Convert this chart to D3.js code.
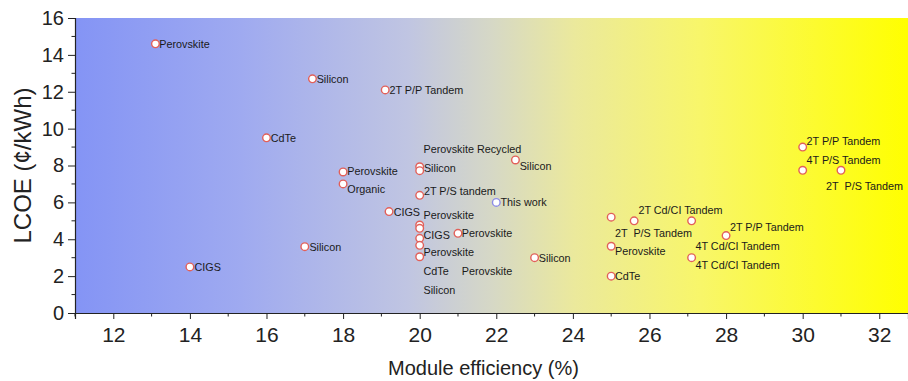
<!DOCTYPE html>
<html>
<head>
<meta charset="utf-8">
<script src="https://cdn.jsdelivr.net/npm/d3@7"></script>
<style>
  body { margin: 0; background: #fff; }
  svg { display: block; font-family: Arial, "Liberation Sans", sans-serif; }
</style>
</head>
<body>
<div id="chart"></div>
<script>
// reported devices: module efficiency (%) vs LCOE (cents/kWh)
const efficiency = [13.1, 17.2, 19.1, 16.0, 18.0, 18.0, 19.2, 17.0, 14.0,
  20, 20, 20, 20, 20, 20, 20, 20,
  21.0, 22.5, 23.0,
  30, 30, 31, 25, 25.6, 27.1, 28, 27.1, 25, 25];
const lcoe = [14.6, 12.7, 12.1, 9.5, 7.65, 7.0, 5.5, 3.6, 2.5,
  7.93, 7.72, 6.38, 4.77, 4.59, 4.05, 3.67, 3.05,
  4.32, 8.3, 3.0,
  9.0, 7.74, 7.74, 5.2, 5.0, 5.0, 4.2, 3.0, 3.62, 2.0];

const thisWork = { efficiency: 22.0, lcoe: 6.0 };

// labels placed in data units (left edge, vertical centre)
const labelText = ["Perovskite", "Silicon", "2T P/P Tandem", "CdTe", "Perovskite", "Organic",
  "CIGS", "Silicon", "CIGS", "Silicon", "2T P/S tandem", "Perovskite Recycled",
  "Perovskite", "CIGS", "Perovskite", "CdTe", "Silicon", "Perovskite", "Perovskite",
  "This work", "Silicon", "Silicon",
  "2T P/P Tandem", "4T P/S Tandem", "2T  P/S Tandem", "2T Cd/CI Tandem", "2T  P/S Tandem",
  "2T P/P Tandem", "4T Cd/CI Tandem", "4T Cd/CI Tandem", "Perovskite", "CdTe"];
const labelX = [13.2, 17.31, 19.21, 16.11, 18.11, 18.11,
  19.32, 17.12, 14.12, 20.11, 20.11, 20.10,
  20.10, 20.10, 20.10, 20.10, 20.10, 21.10, 21.10,
  22.11, 22.61, 23.11,
  30.10, 30.10, 30.61, 25.71, 25.10,
  28.10, 27.20, 27.20, 25.10, 25.10];
const labelY = [14.59, 12.67, 12.06, 9.49, 7.68, 6.72,
  5.48, 3.56, 2.48, 7.85, 6.58, 8.89,
  5.31, 4.23, 3.29, 2.26, 1.21, 4.32, 2.24,
  6.0, 7.97, 2.98,
  9.29, 8.30, 6.90, 5.59, 4.35,
  4.63, 3.63, 2.60, 3.35, 1.97];

const xTicks = [12, 14, 16, 18, 20, 22, 24, 26, 28, 30, 32];
const yTicks = [0, 2, 4, 6, 8, 10, 12, 14, 16];

const W = 908, H = 381;
const margin = { top: 18, right: 0, bottom: 68, left: 75 };

const svg = d3.select("#chart").append("svg")
  .attr("width", W)
  .attr("height", H);

const x = d3.scaleLinear().domain([11, 32.75]).range([margin.left, W - margin.right]);
const y = d3.scaleLinear().domain([0, 16]).range([H - margin.bottom, margin.top]);

const grad = svg.append("defs").append("linearGradient")
  .attr("id", "bg")
  .attr("x1", "0%").attr("x2", "100%").attr("y1", "0%").attr("y2", "0%");
[[0, "#8494f5"], [0.2, "#9faaf0"], [0.4, "#c0c5e2"], [0.5, "#d6d8c6"],
 [0.6, "#ebe99c"], [0.75, "#f8f66a"], [1, "#ffff00"]].forEach(s => {
  grad.append("stop").attr("offset", s[0]).attr("stop-color", s[1]);
});

svg.append("rect")
  .attr("x", x(11))
  .attr("y", y(16))
  .attr("width", x(32.75) - x(11))
  .attr("height", y(0) - y(16))
  .attr("fill", "url(#bg)");

// axes
const xAxis = d3.axisBottom(x).tickValues(xTicks).tickSize(6).tickPadding(8).tickFormat(d3.format("d"));
const gx = svg.append("g").attr("transform", `translate(0,${y(0)})`).call(xAxis);
gx.selectAll("text").style("font-size", "21px").attr("fill", "#222");
gx.append("g").selectAll("line")
  .data(d3.range(11, 33).filter(v => v % 2 === 1))
  .join("line")
  .attr("x1", d => x(d)).attr("x2", d => x(d))
  .attr("y1", 0).attr("y2", 3.5)
  .attr("stroke", "#222");

const yAxis = d3.axisLeft(y).tickValues(yTicks).tickSize(7).tickPadding(4).tickFormat(d3.format("d"));
const gy = svg.append("g").attr("transform", `translate(${x(11)},0)`).call(yAxis);
gy.selectAll("text").style("font-size", "20px").attr("fill", "#222");
gy.append("g").selectAll("line")
  .data(d3.range(1, 16, 2))
  .join("line")
  .attr("x1", 0).attr("x2", -3.5)
  .attr("y1", d => y(d)).attr("y2", d => y(d))
  .attr("stroke", "#222");

[gx, gy].forEach(g => {
  g.select(".domain").attr("stroke", "#222").attr("stroke-width", 1.2);
  g.selectAll(".tick line").attr("stroke", "#222");
});

svg.append("text")
  .attr("x", (x(11) + W) / 2 - 8)
  .attr("y", H - 6)
  .attr("text-anchor", "middle")
  .style("font-size", "20px")
  .attr("fill", "#222")
  .text("Module efficiency (%)");

svg.append("text")
  .attr("transform", `translate(31,${(y(0) + y(16)) / 2}) rotate(-90)`)
  .attr("text-anchor", "middle")
  .style("font-size", "24px")
  .attr("fill", "#222")
  .text("LCOE (¢/kWh)");

// markers
svg.append("g").selectAll("circle")
  .data(efficiency.map((e, i) => [e, lcoe[i]]))
  .join("circle")
  .attr("cx", d => x(d[0]))
  .attr("cy", d => y(d[1]))
  .attr("r", 3.8)
  .attr("fill", "#fff")
  .attr("stroke", "#e2605a")
  .attr("stroke-width", 1.4);

svg.append("circle")
  .attr("cx", x(thisWork.efficiency))
  .attr("cy", y(thisWork.lcoe))
  .attr("r", 3.8)
  .attr("fill", "#fff")
  .attr("stroke", "#8c8ce6")
  .attr("stroke-width", 1.4);

// labels
svg.append("g").selectAll("text")
  .data(labelText.map((t, i) => ({ t, x: labelX[i], y: labelY[i] })))
  .join("text")
  .attr("x", d => x(d.x))
  .attr("y", d => y(d.y))
  .attr("dy", "0.35em")
  .style("font-size", "10.8px")
  .style("white-space", "pre")
  .attr("fill", "#1a1a1a")
  .text(d => d.t);
</script>
</body>
</html>
